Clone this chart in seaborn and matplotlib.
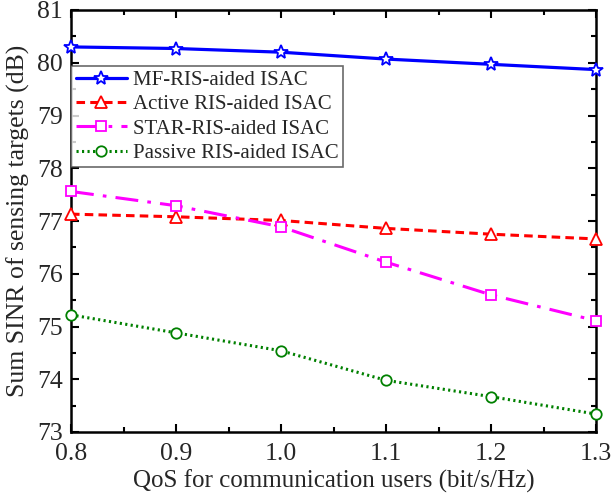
import matplotlib
matplotlib.use("Agg")
import matplotlib.pyplot as plt
import seaborn as sns
import pandas as pd
from matplotlib.ticker import MultipleLocator, FormatStrFormatter

qos = [0.8, 0.9, 1.0, 1.1, 1.2, 1.3]
mf_ris = [80.30, 80.27, 80.20, 80.07, 79.97, 79.87]
active_ris = [77.13, 77.08, 77.01, 76.86, 76.75, 76.66]
star_ris = [77.56, 77.29, 76.89, 76.22, 75.60, 75.11]
passive_ris = [75.22, 74.88, 74.54, 73.98, 73.67, 73.34]

labels = ["MF-RIS-aided ISAC", "Active RIS-aided ISAC",
          "STAR-RIS-aided ISAC", "Passive RIS-aided ISAC"]
series = [mf_ris, active_ris, star_ris, passive_ris]

sns.set_theme(style="white")
plt.rcParams['font.family'] = ['Liberation Serif', 'DejaVu Serif']

fig = plt.figure(figsize=(6.11, 4.97), dpi=100)
ax = fig.add_axes([71/611, 1 - 432/497, (596-71)/611, (432-10)/497])

styles = [
    dict(color="#0000ff", marker="*", lw=2.3, ms=10, dashes=None),
    dict(color="#ff0000", marker="^", lw=2.2, ms=9, dashes=(2.8, 1.7)),
    dict(color="#ff00ff", marker="s", lw=2.2, ms=7, dashes=(7.5, 3, 1.2, 3)),
    dict(color="#008000", marker="o", lw=2.2, ms=7.5, dashes=(0.7, 1.1)),
]

for lab, vals, st in zip(labels, series, styles):
    df = pd.DataFrame({"QoS": qos, "SINR": vals})
    sns.lineplot(data=df, x="QoS", y="SINR", ax=ax, label=lab,
                 color=st["color"], marker=st["marker"], linewidth=st["lw"],
                 markersize=st["ms"], markerfacecolor="white",
                 markeredgecolor=st["color"], markeredgewidth=1.3,
                 clip_on=False, zorder=3)
    l = ax.get_lines()[-1]
    if st["dashes"] is not None:
        l.set_dashes(st["dashes"])

ax.set_xlim(0.8, 1.3)
ax.set_ylim(73, 81)
ax.xaxis.set_major_locator(MultipleLocator(0.1))
ax.xaxis.set_minor_locator(MultipleLocator(0.05))
ax.yaxis.set_major_locator(MultipleLocator(1))
ax.yaxis.set_minor_locator(MultipleLocator(0.5))
ax.xaxis.set_major_formatter(FormatStrFormatter('%.1f'))
ax.yaxis.set_major_formatter(FormatStrFormatter('%d'))
ax.tick_params(which='both', direction='in', top=True, right=True,
               bottom=True, left=True, color='black', width=1.5)
ax.tick_params(which='major', length=6, labelsize=18.5)
ax.tick_params(axis='x', which='major', pad=8)
ax.tick_params(axis='y', which='major', pad=6)
ax.tick_params(which='minor', length=3.5)
for s in ax.spines.values():
    s.set_color('black')
    s.set_linewidth(1.8)

ax.set_xlabel("QoS for communication users (bit/s/Hz)", fontsize=18, labelpad=3)
ax.set_ylabel("Sum SINR of sensing targets (dB)", fontsize=18.5, labelpad=5)

leg = ax.legend(loc='upper left', bbox_to_anchor=(0.0, 0.867), fontsize=15,
                frameon=True, fancybox=False, edgecolor='#444444',
                borderpad=0.22, labelspacing=0.22, handlelength=2.45,
                handletextpad=0.3, borderaxespad=0.0)
leg.get_frame().set_linewidth(1.2)

fig.savefig("out.png", dpi=100)
